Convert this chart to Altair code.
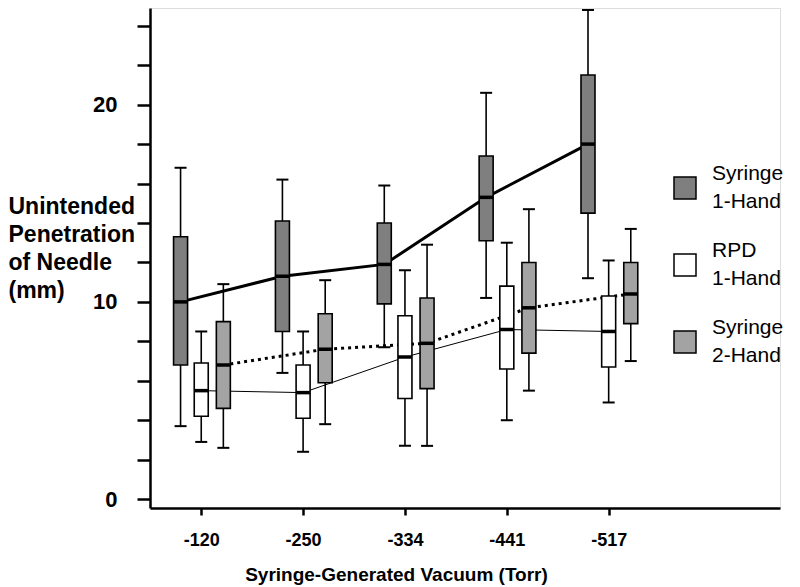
import json
import altair as alt
import pandas as pd

# ---- data ----
categories = ["-120", "-250", "-334", "-441", "-517"]
series = ["Syringe 1-Hand", "RPD 1-Hand", "Syringe 2-Hand"]

s1h_lo = [3.7, 6.4, 7.7, 10.2, 11.2]
s1h_q1 = [6.8, 8.5, 9.9, 13.1, 14.5]
s1h_med = [10.0, 11.3, 11.9, 15.3, 18.0]
s1h_q3 = [13.3, 14.1, 14.0, 17.4, 21.5]
s1h_hi = [16.8, 16.2, 15.9, 20.6, 24.8]

rpd_lo = [2.9, 2.4, 2.7, 4.0, 4.9]
rpd_q1 = [4.2, 4.1, 5.1, 6.6, 6.7]
rpd_med = [5.5, 5.4, 7.2, 8.6, 8.5]
rpd_q3 = [6.9, 6.8, 9.3, 10.8, 10.3]
rpd_hi = [8.5, 8.5, 11.6, 13.0, 12.1]

s2h_lo = [2.6, 3.8, 2.7, 5.5, 7.0]
s2h_q1 = [4.6, 5.9, 5.6, 7.4, 8.9]
s2h_med = [6.8, 7.6, 7.9, 9.7, 10.4]
s2h_q3 = [9.0, 9.4, 10.2, 12.0, 12.0]
s2h_hi = [10.9, 11.1, 12.9, 14.7, 13.7]

# ---- style ----
offsets = {"Syringe 1-Hand": -0.203, "RPD 1-Hand": 0.0, "Syringe 2-Hand": 0.217}
fills = ["#7f7f7f", "#ffffff", "#a3a3a3"]
line_styles = {
    "Syringe 1-Hand": dict(strokeWidth=3),
    "RPD 1-Hand": dict(strokeWidth=1),
    "Syringe 2-Hand": dict(strokeWidth=3, strokeDash=[3, 4]),
}
FONT = "Liberation Sans"

stats = {
    "Syringe 1-Hand": (s1h_lo, s1h_q1, s1h_med, s1h_q3, s1h_hi),
    "RPD 1-Hand": (rpd_lo, rpd_q1, rpd_med, rpd_q3, rpd_hi),
    "Syringe 2-Hand": (s2h_lo, s2h_q1, s2h_med, s2h_q3, s2h_hi),
}
rows = []
for s in series:
    lo, q1, med, q3, hi = stats[s]
    for i, c in enumerate(categories):
        rows.append({"cat": c, "series": s, "pos": i + offsets[s],
                     "lo": lo[i], "q1": q1[i], "med": med[i], "q3": q3[i], "hi": hi[i]})
df = pd.DataFrame(rows)

xscale = alt.Scale(domain=[-0.454, 5.633], nice=False, zero=False)
yscale = alt.Scale(domain=[-0.45, 24.9], nice=False, zero=False)

label_expr = json.dumps(categories) + "[datum.value]"

xaxis = alt.Axis(
    values=list(range(len(categories))), labelExpr=label_expr, grid=False,
    domainColor="black", domainWidth=2.5, tickColor="black", tickWidth=2.5, tickSize=7,
    labelFont=FONT, labelFontSize=18, labelFontWeight="bold", labelColor="black",
    labelPadding=16,
    title="Syringe-Generated Vacuum (Torr)", titleFont=FONT, titleFontSize=19,
    titleFontWeight="bold", titleColor="black", titleX=246, titleY=72,
    titleBaseline="alphabetic", titleAlign="center",
)
yaxis = alt.Axis(
    values=list(range(0, 25, 2)),
    labelExpr="datum.value % 10 == 0 ? datum.label : ''", grid=False,
    domainColor="black", domainWidth=2.5, tickColor="black", tickWidth=2.5, tickSize=13,
    labelFont=FONT, labelFontSize=22, labelFontWeight="bold", labelColor="black",
    labelPadding=20,
    title=["Unintended", "Penetration", "of Needle", "(mm)"], titleFont=FONT,
    titleFontSize=23, titleFontWeight="bold", titleColor="black", titleAngle=0,
    titleAlign="left", titleBaseline="alphabetic", titleX=-142, titleY=205,
    titleLineHeight=28,
)

base = alt.Chart(df)

line_layers = []
for k, s in enumerate(series):
    enc = dict(x="pos:Q", y="med:Q")
    if k == 0:
        enc = dict(x=alt.X("pos:Q", scale=xscale, axis=xaxis),
                   y=alt.Y("med:Q", scale=yscale, axis=yaxis))
    line_layers.append(
        base.transform_filter(alt.datum.series == s)
        .mark_line(color="black", **line_styles[s])
        .encode(**enc)
    )

whiskers = base.mark_rule(color="black", strokeWidth=1.6).encode(
    x="pos:Q", y="lo:Q", y2="hi:Q"
)

caps = base.transform_fold(["lo", "hi"], as_=["k", "v"]).mark_tick(
    orient="horizontal", size=12, thickness=2, color="black", opacity=1
).encode(x="pos:Q", y="v:Q")

boxes = base.mark_bar(size=14, stroke="black", strokeWidth=1.6, opacity=1).encode(
    x="pos:Q", y="q1:Q", y2="q3:Q",
    fill=alt.Fill(
        "series:N", scale=alt.Scale(domain=series, range=fills),
        legend=alt.Legend(
            orient="none", legendX=523, legendY=168, title=None, padding=0,
            symbolType="square", symbolSize=484, symbolStrokeColor="black",
            symbolStrokeWidth=1.5, symbolOpacity=1,
            labelFont=FONT, labelFontSize=21, labelColor="black", labelOffset=15,
            labelBaseline="line-bottom",
            labelExpr="split(datum.label, ' ')", labelLimit=0, rowPadding=28,
        ),
    ),
)

medians = base.mark_tick(orient="horizontal", size=14, thickness=3.5, color="black", opacity=1).encode(
    x="pos:Q", y="med:Q"
)

chart = (
    alt.layer(*line_layers, whiskers, caps, boxes, medians)
    .properties(
        width=630, height=500,
        autosize=alt.AutoSizeParams(type="none"),
        padding={"left": 142, "top": 0, "right": 12, "bottom": 79},
    )
    .configure_view(stroke=None)
    .configure(style={"guide-label": {"lineHeight": 28}})
)

chart.save("out.html", embed_options={"renderer": "svg", "actions": False})
